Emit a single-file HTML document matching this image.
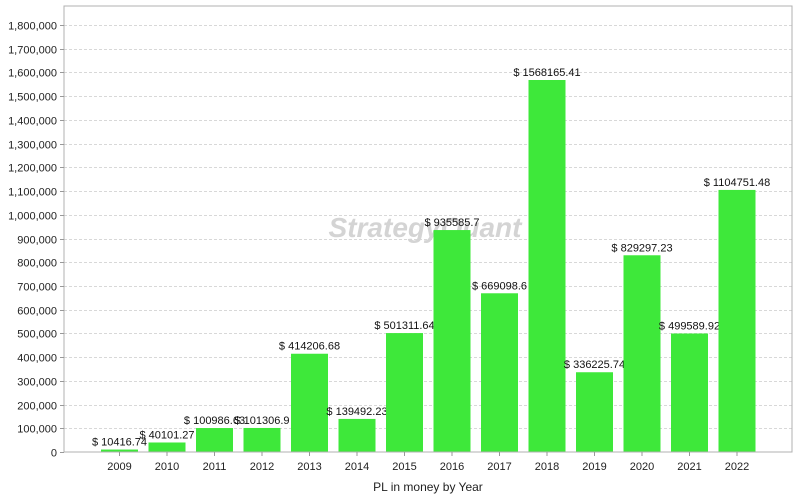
<!DOCTYPE html>
<html><head><meta charset="utf-8"><style>
body{margin:0;background:#fff;}
svg{display:block;font-family:"Liberation Sans",Arial,sans-serif;}
</style></head><body>
<svg id="chart" width="800" height="500">
<rect x="0" y="0" width="800" height="500" fill="#fff"/>
<g id="grid"></g>
<text x="425" y="237" text-anchor="middle" font-size="28" font-weight="bold" font-style="italic" fill="#d4d4d4">StrategyQuant</text>
<g id="bars"></g>
<rect x="64" y="6" width="728" height="446" fill="none" stroke="#b0b0b0" stroke-width="1"/>
<g id="axes"></g>
<text x="428" y="491" text-anchor="middle" font-size="12" fill="#222">PL in money by Year</text>
</svg>
<script>
const categories=["2009","2010","2011","2012","2013","2014","2015","2016","2017","2018","2019","2020","2021","2022"];
const values=[10416.74,40101.27,100986.63,101306.9,414206.68,139492.23,501311.64,935585.7,669098.6,1568165.41,336225.74,829297.23,499589.92,1104751.48];
const valueLabels=["$ 10416.74","$ 40101.27","$ 100986.63","$ 101306.9","$ 414206.68","$ 139492.23","$ 501311.64","$ 935585.7","$ 669098.6","$ 1568165.41","$ 336225.74","$ 829297.23","$ 499589.92","$ 1104751.48"];
const yTicks=[0,100000,200000,300000,400000,500000,600000,700000,800000,900000,1000000,1100000,1200000,1300000,1400000,1500000,1600000,1700000,1800000];
const NS="http://www.w3.org/2000/svg";
function y(v){return 452-v*(427/1800000);}
function x(i){return 119.5+i*47.5;}
const bw=37;
const grid=document.getElementById('grid'),axes=document.getElementById('axes'),bars=document.getElementById('bars');
function mk(tag,attrs,parent){const e=document.createElementNS(NS,tag);for(const k in attrs)e.setAttribute(k,attrs[k]);parent.appendChild(e);return e;}
yTicks.forEach(t=>{
  const yy=Math.round(y(t))+0.5;
  if(t>0){const l=mk('line',{x1:64,x2:792,y1:yy,y2:yy,stroke:'#d8d8d8','stroke-dasharray':'3,2'},grid);
  
  }
  const tk=mk('line',{x1:60,x2:64,y1:yy,y2:yy,stroke:'#999'},axes);
  
  
  const tx=mk('text',{x:57,y:yy+4,'text-anchor':'end','font-size':'11',fill:'#222'},axes);
  tx.textContent=t.toLocaleString('en-US');
  
  
});
categories.forEach((c,i)=>{
  const cx=x(i),top=y(values[i]);
  const r=mk('rect',{x:cx-bw/2,y:top,width:bw,height:452-top,fill:'#3ee83a'},bars);
  
  
  const lb=mk('text',{x:cx,y:top-4,'text-anchor':'middle','font-size':'11',fill:'#111'},bars);
  lb.textContent=valueLabels[i];
  
  
  const tk=mk('line',{x1:cx,x2:cx,y1:452,y2:456,stroke:'#999'},axes);
  
  
  const xl=mk('text',{x:cx,y:470,'text-anchor':'middle','font-size':'11',fill:'#222'},axes);
  xl.textContent=c;
  
  
});
</script>
</body></html>
